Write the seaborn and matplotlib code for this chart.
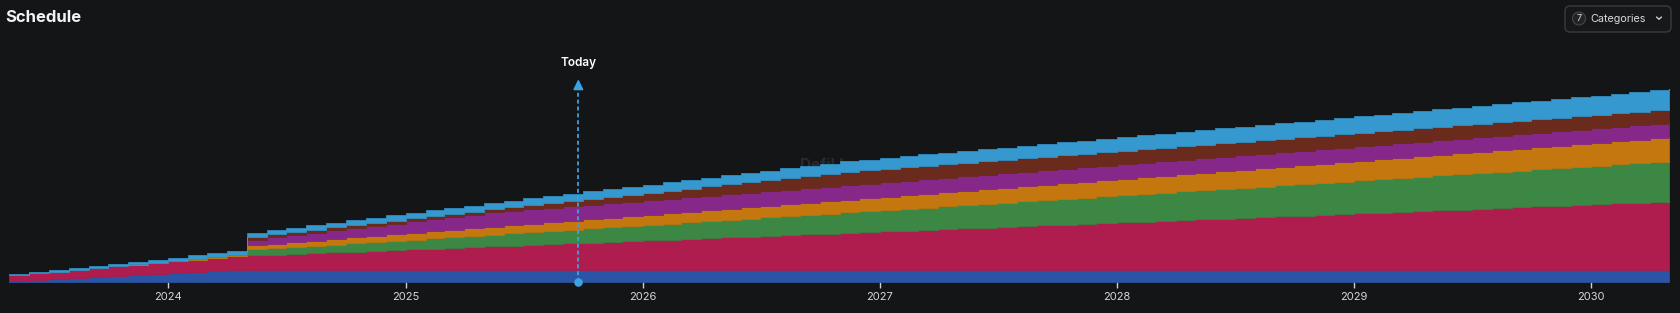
import numpy as np
import pandas as pd
import matplotlib
matplotlib.use("Agg")
import matplotlib.pyplot as plt
import matplotlib.dates as mdates
from matplotlib.patches import FancyBboxPatch, Circle
import seaborn as sns

# ---------------- data ----------------
categories = ["Category 1", "Category 2", "Category 3", "Category 4",
              "Category 5", "Category 6", "Category 7"]
schedule_start = "2023-05-01"
n_months = 85
today = "2025-09-24"
# one-off unlock per category: month index and amount
cliff_month = [0, 0, 12, 12, 12, 12, 0]
cliff_amount = [0.0, 6.0, 6.0, 2.5, 5.5, 3.0, 1.0]
# linear monthly unlock per category: first month, number of months, amount per month
linear_start = [0, 1, 13, 6, 13, 25, 1]
linear_months = [12, 84, 72, 79, 12, 18, 84]
monthly_amount = [0.96, 0.753, 0.48, 0.274, 0.75, 0.58, 0.226]
year_ticks = [2024, 2025, 2026, 2027, 2028, 2029, 2030]

# ---------------- styles ----------------
colors = ["#2a55a5", "#ae1d4d", "#3b8743", "#c5770f", "#86278a", "#6a2a1c", "#3598cf"]
BG = "#141517"
W, H = 1681, 313

sns.set_theme(style="dark", rc={
    "figure.facecolor": BG, "axes.facecolor": "none", "savefig.facecolor": BG,
    "axes.edgecolor": BG, "text.color": "#f0f0f0",
    "xtick.color": "#cfcfcf", "ytick.color": "#cfcfcf",
})
plt.rcParams["font.family"] = ["Inter", "DejaVu Sans"]

months = pd.date_range(schedule_start, periods=n_months, freq="MS")
m_idx = np.arange(n_months)
series = []
for cm, ca, ls, lm, ma in zip(cliff_month, cliff_amount, linear_start, linear_months, monthly_amount):
    vals = ca * (m_idx >= cm) + ma * np.clip(m_idx - ls + 1, 0, lm)
    series.append(vals)
xnum = mdates.date2num(months.to_pydatetime())

fig = plt.figure(figsize=(W / 100, H / 100), dpi=100)
ax = fig.add_axes([9 / W, (H - 282) / H, 1660 / W, 242 / H])
ax.patch.set_alpha(0)

# faint watermark behind the areas
fig.text(800 / W, 1 - 166 / H, "DefiLlama", ha="left", va="center", fontsize=11,
         color="#8a8a8a", alpha=0.18, weight="bold", zorder=-1)

polys = ax.stackplot(xnum, *series, colors=colors, step="post")
for p, c in zip(polys, colors):
    p.set_edgecolor(c)
    p.set_linewidth(0.5)

tk = mdates.date2num([pd.Timestamp(f"{y}-01-01").to_pydatetime() for y in year_ticks])

# Today marker
tnum = mdates.date2num(pd.Timestamp(today).to_pydatetime())
line_col = "#3aa3e3"
ax.plot([tnum, tnum], [0, 196], color=line_col, lw=1.3, linestyle=(0, (2.2, 1.6)), zorder=5)
ax.annotate("", xy=(tnum, 205.5), xytext=(tnum, 195),
            arrowprops=dict(arrowstyle="-|>", color=line_col, lw=1.2, mutation_scale=15),
            zorder=6)
sns.scatterplot(x=[tnum], y=[0], ax=ax, s=38, color=line_col, edgecolor=line_col,
                linewidth=0, zorder=7, legend=False)
ax.collections[-1].set_clip_on(False)
ax.text(tnum, 219, "Today", ha="center", va="center", fontsize=8.5, weight="semibold",
        color="#ffffff")

ax.set_xlim(xnum[0], xnum[-1])
ax.set_ylim(0, 242)
ax.set_xticks(tk)
ax.set_xticklabels([str(y) for y in year_ticks])
ax.tick_params(axis="x", length=4, width=1, color="#cfcfcf", labelcolor="#d6d6d6",
               labelsize=8, pad=3, bottom=True)
ax.set_yticks([])
ax.set_xlabel("")
ax.set_ylabel("")
ax.grid(False)
if ax.get_legend() is not None:
    ax.get_legend().remove()
for s in ax.spines.values():
    s.set_visible(False)

# overlay in pixel coordinates for title and control
ov = fig.add_axes([0, 0, 1, 1], zorder=10)
ov.set_xlim(0, W)
ov.set_ylim(H, 0)
ov.axis("off")
ov.patch.set_alpha(0)
ov.text(5, 18, "Schedule", ha="left", va="center", fontsize=12, weight="bold", color="#f2f2f2")
btn = FancyBboxPatch((1565, 6), 106, 26, boxstyle="round,pad=0,rounding_size=5",
                     facecolor="#17181a", edgecolor="#3a3b3f", lw=1)
ov.add_patch(btn)
ov.add_patch(Circle((1579, 18.5), 6.5, facecolor="#232427", edgecolor="#45464a", lw=0.8))
ov.text(1579, 18.8, "7", ha="center", va="center", fontsize=6.5, color="#e0e0e0")
ov.text(1590, 18.5, "Categories", ha="left", va="center", fontsize=7.8, color="#dadada")
ov.plot([1656.5, 1659, 1661.5], [17, 19.3, 17], color="#cfcfcf", lw=1)

fig.savefig("out.png", dpi=100, facecolor=BG)
